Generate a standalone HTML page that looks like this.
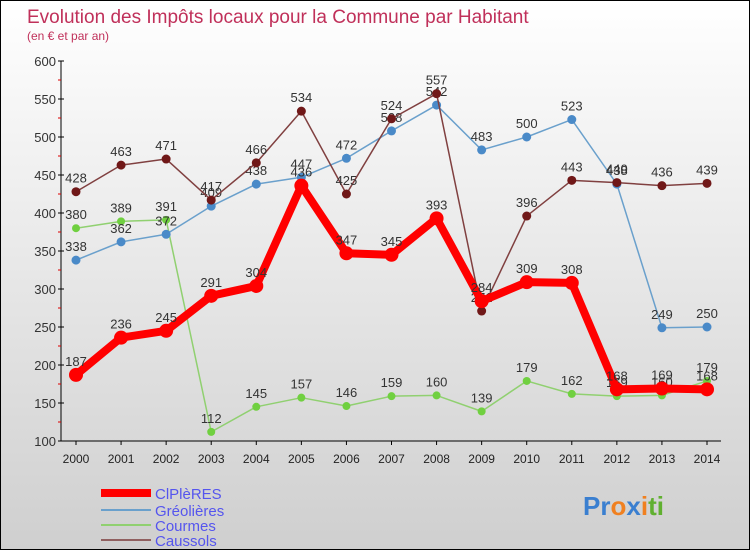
<!DOCTYPE html>
<html><head><meta charset="utf-8"><style>
body{margin:0}
#c{width:750px;height:550px;position:relative;overflow:hidden;box-sizing:border-box;border:1px solid #000;background:linear-gradient(#fff,#cfcfcf);font-family:"Liberation Sans",sans-serif}
</style></head><body>
<div id="c">
<svg id="s" width="750" height="550" style="position:absolute;left:0;top:0">
<text x="26" y="22" font-size="19" fill="#c0305a">Evolution des Impôts locaux pour la Commune par Habitant</text>
<text x="26" y="39" font-size="12" fill="#c0305a">(en € et par an)</text>
<g id="axes"></g><g id="series"></g>
<g>
<line x1="100" y1="492" x2="150" y2="492" stroke="#f00" stroke-width="8"/>
<text x="154" y="498" font-size="15" fill="#5555ee">ClPlèRES</text>
<line x1="100" y1="509" x2="150" y2="509" stroke="#6aa0cc" stroke-width="2"/>
<text x="154" y="515" font-size="15" fill="#5555ee">Gréolières</text>
<line x1="100" y1="524" x2="150" y2="524" stroke="#90d070" stroke-width="2"/>
<text x="154" y="530" font-size="15" fill="#5555ee">Courmes</text>
<line x1="100" y1="539" x2="150" y2="539" stroke="#906060" stroke-width="2"/>
<text x="154" y="545" font-size="15" fill="#5555ee">Caussols</text>
</g>
<text x="582" y="514" font-size="26" font-weight="bold"><tspan fill="#3a7fd0">Pr</tspan><tspan fill="#f08020">o</tspan><tspan fill="#3a7fd0">x</tspan><tspan fill="#f08020">i</tspan><tspan fill="#60b030">ti</tspan></text>
</svg></div>
<script>
const years=[2000,2001,2002,2003,2004,2005,2006,2007,2008,2009,2010,2011,2012,2013,2014];
const cipieres=[187,236,245,291,304,436,347,345,393,284,309,308,168,169,168];
const greolieres=[338,362,372,409,438,447,472,508,542,483,500,523,438,249,250];
const courmes=[380,389,391,112,145,157,146,159,160,139,179,162,159,160,179];
const caussols=[428,463,471,417,466,534,425,524,557,271,396,443,440,436,439];
const yTicks=[100,150,200,250,300,350,400,450,500,550,600];
const NS='http://www.w3.org/2000/svg';
const X=i=>75+i*(706-75)/14;
const Y=v=>440-(v-100)*0.76;
function mk(t,a,p){const e=document.createElementNS(NS,t);for(const k in a)e.setAttribute(k,a[k]);p.appendChild(e);return e;}
const ax=document.getElementById('axes');
const yl=mk('line',{x1:60,y1:60,x2:60,y2:440,stroke:'#000'},ax);


const xl=mk('line',{x1:60,y1:440,x2:720,y2:440,stroke:'#000'},ax);


yTicks.forEach(v=>{
 mk('line',{x1:57,y1:Y(v),x2:63,y2:Y(v),stroke:'#000'},ax);
 if(v<600)mk('line',{x1:57,y1:Y(v+25),x2:60,y2:Y(v+25),stroke:'#d00'},ax);
 const t=mk('text',{x:55,y:Y(v)+5,'font-size':13,fill:'#333','text-anchor':'end'},ax);t.textContent=v;
 
 
});
years.forEach((y,i)=>{
 mk('line',{x1:X(i),y1:440,x2:X(i),y2:444,stroke:'#000'},ax);
 const t=mk('text',{x:X(i),y:462,'font-size':12,fill:'#222','text-anchor':'middle'},ax);t.textContent=y;
 
 
});
const sg=document.getElementById('series');
function series(d,name,col,w,r,dot){
 const g=mk('g',{},sg);
 
 
 mk('polyline',{points:d.map((v,i)=>X(i)+','+Y(v)).join(' '),fill:'none',stroke:col,'stroke-width':w,'stroke-linejoin':'round'},g);
 d.forEach((v,i)=>{
  const c=mk('circle',{cx:X(i),cy:Y(v),r:r,fill:dot},g);
  
  
  const t=mk('text',{x:X(i),y:Y(v)-9,'font-size':13,fill:'#333','text-anchor':'middle'},g);t.textContent=v;
 });
}
series(courmes,'courmes-series','#90d070',1.5,4,'#70d040');
series(greolieres,'greolieres-series','#6aa0cc',1.5,4.5,'#4a8ac8');
series(caussols,'caussols-series','#804040',1.5,4.5,'#701818');
series(cipieres,'cipieres-series','#f00',8,7,'#f00');
</script>
</body></html>
